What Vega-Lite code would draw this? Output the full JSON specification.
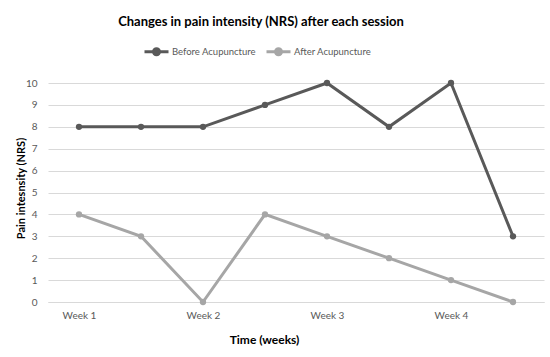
{
  "$schema": "https://vega.github.io/schema/vega-lite/v6.json",
  "width": 496,
  "height": 219,
  "autosize": {"type": "none"},
  "padding": {"left": 48, "top": 83, "right": 6, "bottom": 55},
  "background": "white",
  "title": {
    "text": "Changes in pain intensity (NRS) after each session",
    "font": "Lato",
    "fontSize": 13,
    "fontWeight": "bold",
    "color": "#000000",
    "anchor": "middle",
    "frame": "group",
    "dx": -35,
    "offset": 9
  },
  "data": {
    "values": [
      {"session": 1, "series": "Before Acupuncture", "nrs": 8},
      {"session": 2, "series": "Before Acupuncture", "nrs": 8},
      {"session": 3, "series": "Before Acupuncture", "nrs": 8},
      {"session": 4, "series": "Before Acupuncture", "nrs": 9},
      {"session": 5, "series": "Before Acupuncture", "nrs": 10},
      {"session": 6, "series": "Before Acupuncture", "nrs": 8},
      {"session": 7, "series": "Before Acupuncture", "nrs": 10},
      {"session": 8, "series": "Before Acupuncture", "nrs": 3},
      {"session": 1, "series": "After Acupuncture", "nrs": 4},
      {"session": 2, "series": "After Acupuncture", "nrs": 3},
      {"session": 3, "series": "After Acupuncture", "nrs": 0},
      {"session": 4, "series": "After Acupuncture", "nrs": 4},
      {"session": 5, "series": "After Acupuncture", "nrs": 3},
      {"session": 6, "series": "After Acupuncture", "nrs": 2},
      {"session": 7, "series": "After Acupuncture", "nrs": 1},
      {"session": 8, "series": "After Acupuncture", "nrs": 0}
    ]
  },
  "mark": {
    "type": "line",
    "strokeWidth": 3,
    "point": {"filled": true, "size": 40}
  },
  "encoding": {
    "x": {
      "field": "session",
      "type": "quantitative",
      "scale": {"domain": [0.5, 8.5], "nice": false, "zero": false},
      "axis": {
        "values": [1, 3, 5, 7],
        "labelExpr": "'Week ' + (datum.value + 1) / 2",
        "grid": false,
        "ticks": false,
        "domain": true,
        "domainColor": "#d9d9d9",
        "labelFont": "Lato",
        "labelFontSize": 10,
        "labelColor": "#595959",
        "labelPadding": 8,
        "title": "Time (weeks)",
        "titleFont": "Lato",
        "titleFontSize": 12,
        "titleFontWeight": "bold",
        "titleColor": "#000000",
        "titleX": 216,
        "titleY": 32
      }
    },
    "y": {
      "field": "nrs",
      "type": "quantitative",
      "scale": {"domain": [0, 10], "nice": false},
      "axis": {
        "values": [0, 1, 2, 3, 4, 5, 6, 7, 8, 9, 10],
        "grid": true,
        "gridColor": "#d9d9d9",
        "gridWidth": 1,
        "ticks": false,
        "domain": false,
        "labelFont": "Lato",
        "labelFontSize": 10,
        "labelColor": "#595959",
        "labelPadding": 11,
        "title": "Pain intesnsity (NRS)",
        "titleFont": "Lato",
        "titleFontSize": 11,
        "titleFontWeight": "bold",
        "titleColor": "#000000",
        "titlePadding": -1,
        "titleY": 105
      }
    },
    "color": {
      "field": "series",
      "type": "nominal",
      "scale": {
        "domain": ["Before Acupuncture", "After Acupuncture"],
        "range": ["#595959", "#a6a6a6"]
      },
      "legend": {
        "title": null,
        "orient": "none",
        "direction": "horizontal",
        "legendX": 95,
        "legendY": -45,
        "labelFont": "Lato",
        "labelFontSize": 9.5,
        "labelColor": "#595959",
        "symbolType": "M-1,0L1,0M-0.25,0A0.25,0.25 0 1,1 0.25,0A0.25,0.25 0 1,1 -0.25,0",
        "symbolSize": 576,
        "symbolStrokeWidth": 3,
        "columnPadding": 4,
        "labelOffset": 2
      }
    }
  },
  "config": {
    "view": {"stroke": null}
  }
}
